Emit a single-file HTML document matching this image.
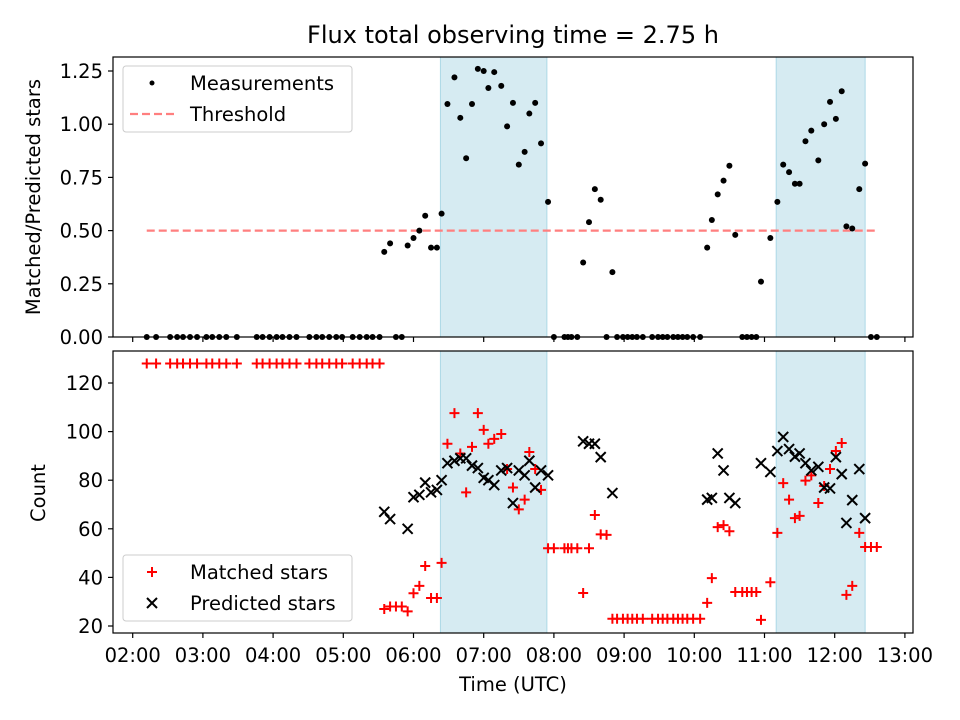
<!DOCTYPE html>
<html><head><meta charset="utf-8"><style>
body{margin:0;background:#fff}
svg{display:block;font-family:"DejaVu Sans","Liberation Sans",sans-serif}
</style></head><body>
<svg id="chart" width="960" height="720" viewBox="0 0 960 720" xmlns="http://www.w3.org/2000/svg">
<rect width="960" height="720" fill="#fff"/>
<text x="513" y="43" font-size="24" text-anchor="middle">Flux total observing time = 2.75 h</text>
<g id="topPanel"></g><g id="botPanel"></g>
</svg>
<script>
const times=["02:12","02:20","02:32","02:38","02:43","02:49","02:55","03:03","03:08","03:14","03:20","03:29","03:46","03:51","03:57","04:03","04:08","04:14","04:20","04:31","04:37","04:42","04:48","04:54","04:59","05:08","05:14","05:20","05:25","05:31",
"05:35","05:40","05:45","05:50","05:55","06:00","06:05","06:10","06:15","06:20","06:24","06:29","06:35","06:40","06:45","06:50","06:55","07:00","07:04","07:09","07:15","07:20","07:25","07:30","07:35","07:39","07:44","07:49","07:55",
"08:00","08:09","08:12","08:15","08:20","08:25","08:30","08:35","08:40","08:45","08:50",
"08:54","08:59","09:03","09:07","09:11","09:16","09:24","09:29","09:33","09:37","09:42","09:46","09:50","09:54","09:59","10:05",
"10:11","10:15","10:20","10:25","10:30","10:35","10:41","10:45","10:49","10:53",
"10:57","11:05","11:11","11:16","11:21","11:26","11:30","11:35","11:40","11:46","11:51","11:56","12:01","12:06","12:10","12:15","12:21","12:26","12:31","12:36"];
const matched=[128,128,128,128,128,128,128,128,128,128,128,128,128,128,128,128,128,128,128,128,128,128,128,128,128,128,128,128,128,128,
27,28,28,28,26,33.5,36.5,44.7,31.5,31.5,46,95,107.6,91,75,93.7,107.6,100.7,95,97,99,84.6,77,68,72,91.6,84.6,76,52,
52,52,52,52,52,33.6,52,65.7,57.7,57.5,23,
23,23,23,23,23,23,23,23,23,23,23,23,23,23,23,23,
29.5,39.7,60.7,61.5,59,34,34,34,34,34,
22.5,38,58.3,78.8,72,64.4,65.3,79.8,82,70.6,77.6,84.6,92,95.3,32.8,36.5,58.3,52.5,52.5,52.5];
const predicted=[null,null,null,null,null,null,null,null,null,null,null,null,null,null,null,null,null,null,null,null,null,null,null,null,null,null,null,null,null,null,
67,64,null,null,60,73,74,79,75,76,80,87,88,89,89,86,85,81,80,78,84,85,70.6,84,82,88,77,84,82,
null,null,null,null,null,96,95,95,89.5,null,74.7,
null,null,null,null,null,null,null,null,null,null,null,null,null,null,null,null,
72,72.7,91,84,72.7,70.6,null,null,null,null,
87,83.4,92,97.8,92.8,89.7,91,87,84,85.5,77,76.6,89.5,82.5,62.4,71.8,84.6,64.4,null,null];
const ratio=[0,0,0,0,0,0,0,0,0,0,0,0,0,0,0,0,0,0,0,0,0,0,0,0,0,0,0,0,0,0,
0.40,0.44,0,0,0.43,0.465,0.50,0.57,0.42,0.42,0.58,1.095,1.22,1.03,0.84,1.095,1.26,1.25,1.17,1.245,1.18,0.99,1.10,0.81,0.87,1.05,1.10,0.91,0.635,
0,0,0,0,0,0.35,0.54,0.695,0.645,0,0.305,
0,0,0,0,0,0,0,0,0,0,0,0,0,0,0,0,
0.42,0.55,0.67,0.735,0.805,0.48,0,0,0,0,
0.26,0.465,0.635,0.81,0.775,0.72,0.72,0.92,0.97,0.83,1.0,1.105,1.025,1.155,0.52,0.51,0.695,0.815,0,0];
const threshold=0.5;
const thresholdSpan=["02:12","12:36"];
const spans=[["06:23","07:54"],["11:10","12:26"]];
const xTicks=["02:00","03:00","04:00","05:00","06:00","07:00","08:00","09:00","10:00","11:00","12:00","13:00"];
const topTicks=[0,0.25,0.5,0.75,1.0,1.25];
const botTicks=[20,40,60,80,100,120];

const NS="http://www.w3.org/2000/svg";
const L=113,R=913,T1=57,B1=337,T2=351,B2=633;
const FS=19.5;
function hrs(s){const p=s.split(":");return +p[0]+ +p[1]/60;}
function X(s){return 132.7+(hrs(s)-2)*70.2;}
function Y1(v){return 337-v*212.8;}
function Y2(v){return 626-(v-20)*2.43;}
function mk(tag,attrs,parent){const e=document.createElementNS(NS,tag);for(const k in attrs)e.setAttribute(k,attrs[k]);parent.appendChild(e);return e;}
const gTop=document.getElementById('topPanel'),gBot=document.getElementById('botPanel');

[[gTop,T1,B1],[gBot,T2,B2]].forEach(([g,t,b])=>{
  spans.forEach(sp=>{
    const r=mk('rect',{x:X(sp[0]),y:t,width:X(sp[1])-X(sp[0]),height:b-t,fill:'#add8e6','fill-opacity':0.5,stroke:'#add8e6','stroke-width':1},g);
    
    
  });
  xTicks.forEach(tk=>{
    const l=mk('line',{x1:X(tk),x2:X(tk),y1:b,y2:b+5,stroke:'#000','stroke-width':1.2},g);
    
    
  });
});
xTicks.forEach(tk=>{
  const t=mk('text',{x:X(tk),y:B2+29,'font-size':FS,'text-anchor':'middle'},gBot);
  t.textContent=tk;
  
  
});
topTicks.forEach(v=>{
  mk('line',{x1:L-5,x2:L,y1:Y1(v),y2:Y1(v),stroke:'#000','stroke-width':1.2},gTop);
  const t=mk('text',{x:L-10,y:Y1(v)+7,'font-size':FS,'text-anchor':'end'},gTop);
  t.textContent=v.toFixed(2);
  
  
});
botTicks.forEach(v=>{
  mk('line',{x1:L-5,x2:L,y1:Y2(v),y2:Y2(v),stroke:'#000','stroke-width':1.2},gBot);
  const t=mk('text',{x:L-10,y:Y2(v)+7,'font-size':FS,'text-anchor':'end'},gBot);
  t.textContent=v;
  
  
});
const th=mk('line',{x1:X(thresholdSpan[0]),x2:X(thresholdSpan[1]),y1:Y1(threshold),y2:Y1(threshold),stroke:'#ff7f7f','stroke-width':2.2,'stroke-dasharray':'8,4'},gTop);


times.forEach((t,i)=>{
  const c=mk('circle',{cx:X(t),cy:Y1(ratio[i]),r:3,fill:'#000'},gTop);
  
  
});
times.forEach((t,i)=>{
  const x=X(t),y=Y2(matched[i]);
  const p=mk('path',{d:`M${x-5},${y}H${x+5}M${x},${y-5}V${y+5}`,stroke:'#f00','stroke-width':2,fill:'none'},gBot);
  
  
});
times.forEach((t,i)=>{
  if(predicted[i]===null)return;
  const x=X(t),y=Y2(predicted[i]);
  const p=mk('path',{d:`M${x-5},${y-5}L${x+5},${y+5}M${x-5},${y+5}L${x+5},${y-5}`,stroke:'#000','stroke-width':2,fill:'none'},gBot);
  
  
});
[[gTop,T1,B1],[gBot,T2,B2]].forEach(([g,t,b])=>{
  const f=mk('rect',{x:L,y:t,width:R-L,height:b-t,fill:'none',stroke:'#000','stroke-width':1.2},g);
  
  
});
function legend(g,y,items,name){
  const box=mk('rect',{x:123,y:y,width:229,height:66,rx:3,fill:'#fff','fill-opacity':0.8,stroke:'#ccc'},g);
  
  
  items.forEach((it,k)=>{
    const cy=y+17+k*31;
    it.draw(152,cy);
    const t=mk('text',{x:190,y:cy+7,'font-size':FS},g);
    t.textContent=it.label;
    
    
  });
}
legend(gTop,66,[
 {label:'Measurements',draw:(x,y)=>mk('circle',{cx:x,cy:y,r:2.5,fill:'#000'},gTop)},
 {label:'Threshold',draw:(x,y)=>mk('line',{x1:x-22,x2:x+22,y1:y,y2:y,stroke:'#ff7f7f','stroke-width':2.2,'stroke-dasharray':'8,4'},gTop)}
],'legend-top');
legend(gBot,555,[
 {label:'Matched stars',draw:(x,y)=>mk('path',{d:`M${x-5},${y}H${x+5}M${x},${y-5}V${y+5}`,stroke:'#f00','stroke-width':2},gBot)},
 {label:'Predicted stars',draw:(x,y)=>mk('path',{d:`M${x-5},${y-5}L${x+5},${y+5}M${x-5},${y+5}L${x+5},${y-5}`,stroke:'#000','stroke-width':2},gBot)}
],'legend-bottom');
let tt=mk('text',{x:513,y:691,'font-size':FS,'text-anchor':'middle'},gBot);tt.textContent='Time (UTC)';


tt=mk('text',{x:40,y:197,'font-size':FS,'text-anchor':'middle',transform:'rotate(-90 40 197)'},gTop);tt.textContent='Matched/Predicted stars';


tt=mk('text',{x:45,y:493,'font-size':FS,'text-anchor':'middle',transform:'rotate(-90 45 493)'},gBot);tt.textContent='Count';


</script>
</body></html>
